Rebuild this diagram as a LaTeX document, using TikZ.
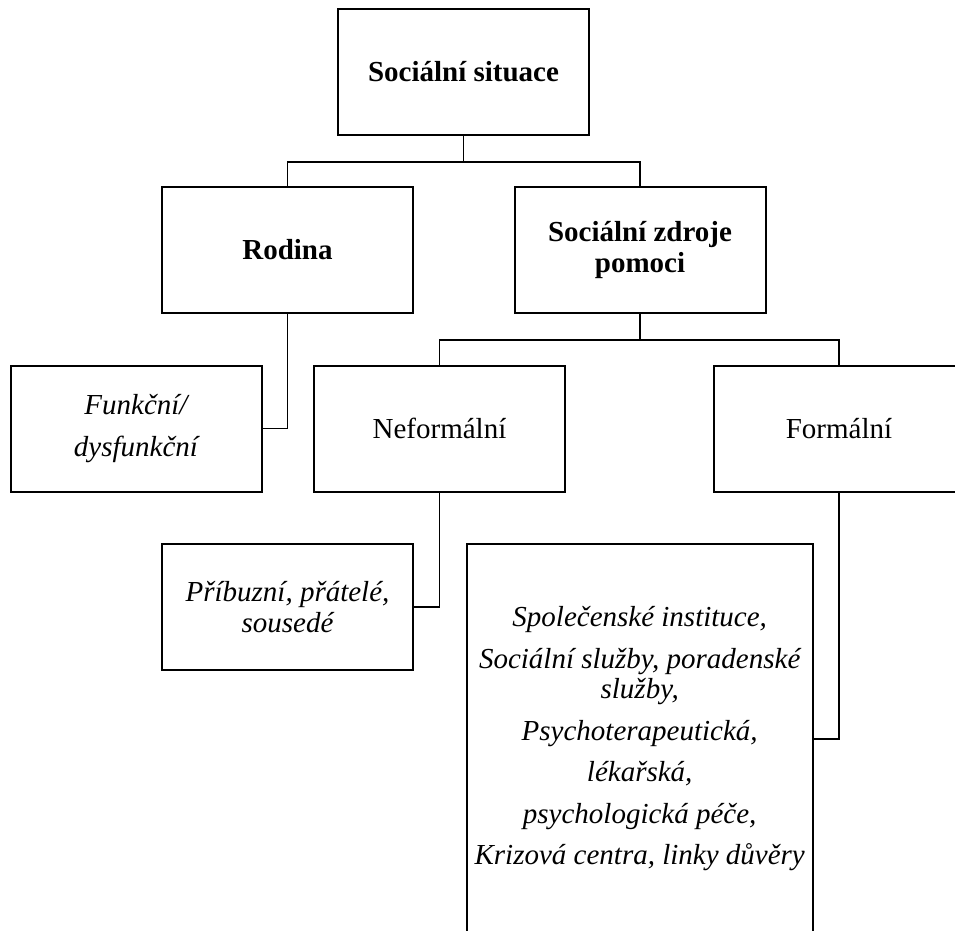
\documentclass[tikz,border=0pt]{standalone}
\usepackage{fontspec}
\setmainfont{Liberation Serif}
\begin{document}
\begin{tikzpicture}[x=1pt, y=-1pt, line width=1.7pt,
  box/.style={draw, line width=2pt, minimum width=251pt, minimum height=126pt, inner sep=0pt, align=center, font=\fontsize{29}{30.5}\selectfont},
  head/.style={box, font=\fontsize{29}{30.5}\selectfont\bfseries},
  item/.style={box, font=\fontsize{29}{30.5}\selectfont\itshape}]
\useasboundingbox (0,0) rectangle (955,930);
\node[head] (sit) at (463.5,72) {Sociální situace};
\node[head] (rodina) at (287.5,250) {Rodina};
\node[head] (zdroje) at (640,250) {Sociální zdroje\\pomoci};
\node[item] (funkcni) at (136,428.5) {Funkční/\\[11pt]dysfunkční};
\node[box] (neformal) at (439.5,428.5) {Neformální};
\node[box] (formal) at (839,428.5) {Formální};
\node[item] (pribuzni) at (287.5,607) {Příbuzní, přátelé,\\sousedé};
\node[item, minimum width=346pt, minimum height=390pt] (instituce) at (639.7,739) {Společenské instituce,\\[11pt]Sociální služby, poradenské\\služby,\\[11pt]Psychoterapeutická,\\[11pt]lékařská,\\[11pt]psychologická péče,\\[11pt]Krizová centra, linky důvěry};
\draw (sit.south) -- ++(0,26) -| (rodina.north);
\draw (sit.south) -- ++(0,26) -| (zdroje.north);
\draw (rodina.south) |- (funkcni.east);
\draw (zdroje.south) -- ++(0,26) -| (neformal.north);
\draw (zdroje.south) -- ++(0,26) -| (formal.north);
\draw (neformal.south) |- (pribuzni.east);
\draw (formal.south) |- (instituce.east);
\end{tikzpicture}
\end{document}
